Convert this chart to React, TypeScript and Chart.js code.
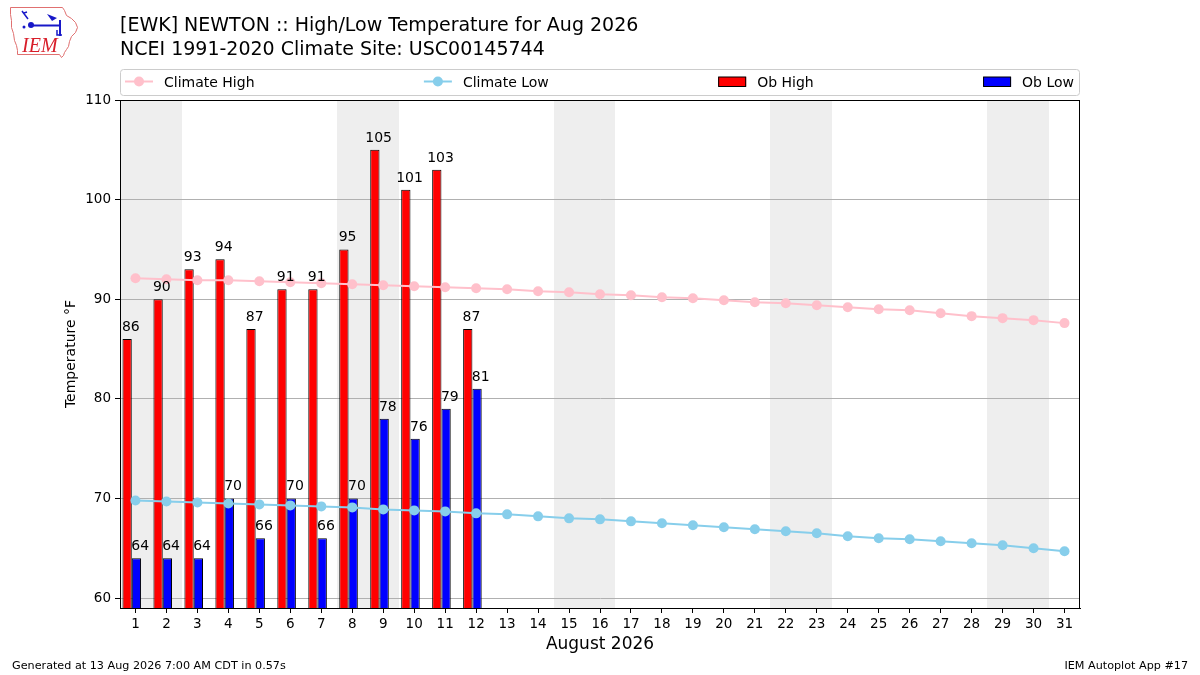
import React, { useEffect, useRef } from "react";
import { Chart, registerables } from "chart.js";

Chart.register(...registerables);

const FONT = "DejaVu Sans";

const titleLine1 = "[EWK] NEWTON :: High/Low Temperature for Aug 2026";
const titleLine2 = "NCEI 1991-2020 Climate Site: USC00145744";
const xAxisTitle = "August 2026";
const yAxisTitle = "Temperature °F";
const footerLeft = "Generated at 13 Aug 2026 7:00 AM CDT in 0.57s";
const footerRight = "IEM Autoplot App #17";

const days = [1, 2, 3, 4, 5, 6, 7, 8, 9, 10, 11, 12, 13, 14, 15, 16, 17, 18, 19, 20, 21, 22, 23, 24, 25, 26, 27, 28, 29, 30, 31];
const climateHigh = [92.1, 92.0, 91.9, 91.9, 91.8, 91.7, 91.6, 91.5, 91.4, 91.3, 91.2, 91.1, 91.0, 90.8, 90.7, 90.5, 90.4, 90.2, 90.1, 89.9, 89.7, 89.6, 89.4, 89.2, 89.0, 88.9, 88.6, 88.3, 88.1, 87.9, 87.6];
const climateLow = [69.8, 69.7, 69.6, 69.5, 69.4, 69.3, 69.2, 69.1, 68.9, 68.8, 68.7, 68.5, 68.4, 68.2, 68.0, 67.9, 67.7, 67.5, 67.3, 67.1, 66.9, 66.7, 66.5, 66.2, 66.0, 65.9, 65.7, 65.5, 65.3, 65.0, 64.7];
const obDays = [1, 2, 3, 4, 5, 6, 7, 8, 9, 10, 11, 12];
const obHigh = [86, 90, 93, 94, 87, 91, 91, 95, 105, 101, 103, 87];
const obLow = [64, 64, 64, 70, 66, 70, 66, 70, 78, 76, 79, 81];
const weekendDays = [1, 2, 8, 9, 15, 16, 22, 23, 29, 30];
const yTicks = [60, 70, 80, 90, 100, 110];
const yMin = 59;
const yMax = 110;

const legendItems = [
  { label: "Climate High", kind: "line", color: "#ffc0cb" },
  { label: "Climate Low", kind: "line", color: "#87ceeb" },
  { label: "Ob High", kind: "rect", color: "#ff0000" },
  { label: "Ob Low", kind: "rect", color: "#0000ff" },
];

// layout constants (not data)
const BAR_SHIFT = 0.12;
const LABEL_SHIFT = 0.15;

function drawLogo(ctx: CanvasRenderingContext2D) {
  ctx.save();
  ctx.strokeStyle = "#e07070";
  ctx.lineWidth = 1;
  const pts = [
    [10, 7], [62, 7], [64, 10], [66, 15], [71, 18], [75, 22], [77, 27], [75, 32], [71, 36], [69, 41],
    [68, 46], [66, 49], [64, 52], [63, 55], [61, 57], [59, 54], [17, 54], [17, 50], [16, 45], [14, 40],
    [13, 33], [11, 27], [11, 20], [10, 14],
  ];
  ctx.beginPath();
  pts.forEach(([x, y], i) => (i === 0 ? ctx.moveTo(x + 0.5, y + 0.5) : ctx.lineTo(x + 0.5, y + 0.5)));
  ctx.closePath();
  ctx.stroke();
  ctx.fillStyle = "#d81e2a";
  ctx.font = 'italic 20px "Liberation Serif"';
  ctx.textAlign = "left";
  ctx.textBaseline = "alphabetic";
  ctx.fillText("IEM", 22, 52);
  ctx.strokeStyle = "#1818c8";
  ctx.fillStyle = "#1818c8";
  ctx.lineWidth = 2;
  ctx.beginPath();
  ctx.moveTo(31, 25.5);
  ctx.lineTo(61, 25.5);
  ctx.stroke();
  ctx.beginPath();
  ctx.moveTo(60, 20);
  ctx.lineTo(60, 36);
  ctx.stroke();
  ctx.beginPath();
  ctx.arc(31, 25, 3, 0, Math.PI * 2);
  ctx.fill();
  ctx.beginPath();
  ctx.moveTo(47, 14);
  ctx.lineTo(57, 18);
  ctx.lineTo(52, 21);
  ctx.closePath();
  ctx.fill();
  ctx.lineWidth = 1.5;
  ctx.beginPath();
  ctx.moveTo(22, 11);
  ctx.lineTo(25, 15);
  ctx.lineTo(28, 19);
  ctx.moveTo(24, 13);
  ctx.lineTo(27, 12);
  ctx.stroke();
  ctx.beginPath();
  ctx.arc(24, 27, 1.5, 0, Math.PI * 2);
  ctx.fill();
  ctx.beginPath();
  ctx.moveTo(57, 30);
  ctx.lineTo(57, 35);
  ctx.lineTo(62, 35);
  ctx.stroke();
  ctx.restore();
}

export default function App() {
  const ref = useRef<HTMLCanvasElement>(null);

  useEffect(() => {
    const canvas = ref.current;
    if (!canvas) return;

    const decorPlugin = {
      id: "decor",
      beforeDraw(chart: any) {
        const { ctx, chartArea } = chart;
        const x = chart.scales.x;
        ctx.save();
        ctx.fillStyle = "#ffffff";
        ctx.fillRect(0, 0, chart.width, chart.height);
        ctx.fillStyle = "#eeeeee";
        weekendDays.forEach((d) => {
          const l = Math.round(Math.max(x.getPixelForValue(d - 0.5), chartArea.left));
          const r = Math.round(Math.min(x.getPixelForValue(d + 0.5), chartArea.right));
          ctx.fillRect(l, chartArea.top, r - l, chartArea.bottom - chartArea.top);
        });
        ctx.restore();
      },
      afterDatasetsDraw(chart: any) {
        const { ctx, chartArea } = chart;
        const x = chart.scales.x;
        const y = chart.scales.y;
        ctx.save();
        ctx.font = `14px "${FONT}"`;
        ctx.fillStyle = "#000";
        ctx.textAlign = "center";
        ctx.textBaseline = "alphabetic";
        obDays.forEach((d, i) => {
          ctx.fillText(String(obHigh[i]), x.getPixelForValue(d - LABEL_SHIFT), y.getPixelForValue(obHigh[i] + 0.8));
          ctx.fillText(String(obLow[i]), x.getPixelForValue(d + LABEL_SHIFT), y.getPixelForValue(obLow[i] + 0.8));
        });
        // frame
        ctx.strokeStyle = "#000";
        ctx.lineWidth = 1;
        ctx.strokeRect(
          Math.round(chartArea.left) + 0.5,
          Math.round(chartArea.top) + 0.5,
          Math.round(chartArea.right - chartArea.left) - 1,
          Math.round(chartArea.bottom - chartArea.top)
        );
        ctx.restore();
      },
      afterDraw(chart: any) {
        const { ctx, chartArea } = chart;
        ctx.save();
        ctx.fillStyle = "#000";
        ctx.textAlign = "left";
        ctx.textBaseline = "alphabetic";
        // titles
        ctx.font = `19px "${FONT}"`;
        ctx.fillText(titleLine1, chartArea.left, 31);
        ctx.fillText(titleLine2, chartArea.left, 55);
        // axis titles
        ctx.font = `17px "${FONT}"`;
        ctx.textAlign = "center";
        ctx.fillText(xAxisTitle, (chartArea.left + chartArea.right) / 2, 649);
        ctx.save();
        ctx.font = `14px "${FONT}"`;
        ctx.translate(75, (chartArea.top + chartArea.bottom) / 2);
        ctx.rotate(-Math.PI / 2);
        ctx.fillText(yAxisTitle, 0, 0);
        ctx.restore();
        // footer
        ctx.font = `11.2px "${FONT}"`;
        ctx.textAlign = "left";
        ctx.fillText(footerLeft, 12, 669);
        ctx.textAlign = "right";
        ctx.fillText(footerRight, 1188, 669);

        // legend
        const bx = chartArea.left + 0.5;
        const bw = chartArea.right - chartArea.left - 1;
        const by = 69.5;
        const bh = 26;
        ctx.beginPath();
        ctx.roundRect(bx, by, bw, bh, 3);
        ctx.fillStyle = "rgba(255,255,255,0.8)";
        ctx.fill();
        ctx.strokeStyle = "#cccccc";
        ctx.lineWidth = 1;
        ctx.stroke();
        ctx.font = `14px "${FONT}"`;
        const x0 = chartArea.left + 5;
        const x1 = chartArea.right - 6;
        const handle = 28;
        const hpad = 11;
        const widths = legendItems.map((it) => handle + hpad + ctx.measureText(it.label).width);
        const total = widths.reduce((a, b) => a + b, 0);
        const gap = (x1 - x0 - total) / (legendItems.length - 1);
        let cx = x0;
        const cy = 81.5;
        legendItems.forEach((it, i) => {
          if (it.kind === "line") {
            ctx.strokeStyle = it.color;
            ctx.lineWidth = 2;
            ctx.beginPath();
            ctx.moveTo(cx, cy);
            ctx.lineTo(cx + handle, cy);
            ctx.stroke();
            ctx.fillStyle = it.color;
            ctx.beginPath();
            ctx.arc(cx + handle / 2, cy, 5, 0, Math.PI * 2);
            ctx.fill();
          } else {
            ctx.fillStyle = it.color;
            ctx.fillRect(cx, cy - 4.5, handle, 9.5);
            ctx.strokeStyle = "#000";
            ctx.lineWidth = 1;
            ctx.strokeRect(cx + 0.5, cy - 4.5, handle - 1, 9.5);
          }
          ctx.fillStyle = "#000";
          ctx.textAlign = "left";
          ctx.fillText(it.label, cx + handle + hpad, cy + 5);
          cx += widths[i] + gap;
        });

        drawLogo(ctx);
        ctx.restore();
      },
    };

    const chart = new Chart(canvas, {
      type: "bar",
      data: {
        datasets: [
          {
            type: "line",
            label: "Climate High",
            data: days.map((d, i) => ({ x: d, y: climateHigh[i] })),
            borderColor: "#ffc0cb",
            backgroundColor: "#ffc0cb",
            borderWidth: 2,
            pointRadius: 5,
            pointBorderWidth: 0,
            pointHoverRadius: 5,
            order: 0,
          },
          {
            type: "line",
            label: "Climate Low",
            data: days.map((d, i) => ({ x: d, y: climateLow[i] })),
            borderColor: "#87ceeb",
            backgroundColor: "#87ceeb",
            borderWidth: 2,
            pointRadius: 5,
            pointBorderWidth: 0,
            pointHoverRadius: 5,
            order: 0,
          },
          {
            type: "bar",
            label: "Ob High",
            data: obDays.map((d, i) => ({ x: d - BAR_SHIFT, y: obHigh[i] })),
            backgroundColor: "#ff0000",
            borderColor: "#000000",
            borderWidth: 1,
            borderSkipped: false,
            categoryPercentage: 0.6,
            barPercentage: 1,
            order: 1,
          },
          {
            type: "bar",
            label: "Ob Low",
            data: obDays.map((d, i) => ({ x: d - BAR_SHIFT, y: obLow[i] })),
            backgroundColor: "#0000ff",
            borderColor: "#000000",
            borderWidth: 1,
            borderSkipped: false,
            categoryPercentage: 0.6,
            barPercentage: 1,
            order: 1,
          },
        ],
      } as any,
      options: {
        responsive: false,
        animation: false,
        devicePixelRatio: 1,
        events: [],
        layout: { padding: { left: 0, top: 100, right: 120, bottom: 0 } },
        plugins: {
          legend: { display: false },
          tooltip: { enabled: false },
          title: { display: false },
        },
        scales: {
          x: {
            type: "linear",
            min: 0.5,
            max: 31.5,
            offset: false,
            afterBuildTicks: (s: any) => {
              s.ticks = days.map((d) => ({ value: d }));
            },
            afterFit: (s: any) => {
              s.height = 67;
            },
            ticks: {
              autoSkip: false,
              maxRotation: 0,
              minRotation: 0,
              color: "#000",
              padding: 3,
              font: { family: FONT, size: 13.5 },
              callback: (v: any) => String(v),
            },
            grid: {
              offset: false,
              drawOnChartArea: false,
              drawTicks: true,
              tickLength: 5,
              tickColor: "#000",
            },
            border: { display: true, color: "#000", width: 1 },
          },
          y: {
            type: "linear",
            min: yMin,
            max: yMax,
            afterBuildTicks: (s: any) => {
              s.ticks = yTicks.map((v) => ({ value: v }));
            },
            afterFit: (s: any) => {
              s.width = 120;
            },
            ticks: {
              color: "#000",
              padding: 4,
              font: { family: FONT, size: 13.5 },
              callback: (v: any) => String(v),
            },
            grid: {
              color: "#b0b0b0",
              lineWidth: 1,
              drawTicks: true,
              tickLength: 5,
              tickColor: "#000",
            },
            border: { display: true, color: "#000", width: 1 },
          },
        },
      } as any,
      plugins: [decorPlugin],
    });

    return () => chart.destroy();
  }, []);

  return (
    <div style={{ position: "absolute", left: 0, top: 0, width: 1200, height: 675, background: "#fff" }}>
      <canvas ref={ref} width={1200} height={675} style={{ display: "block", width: 1200, height: 675 }} />
    </div>
  );
}
